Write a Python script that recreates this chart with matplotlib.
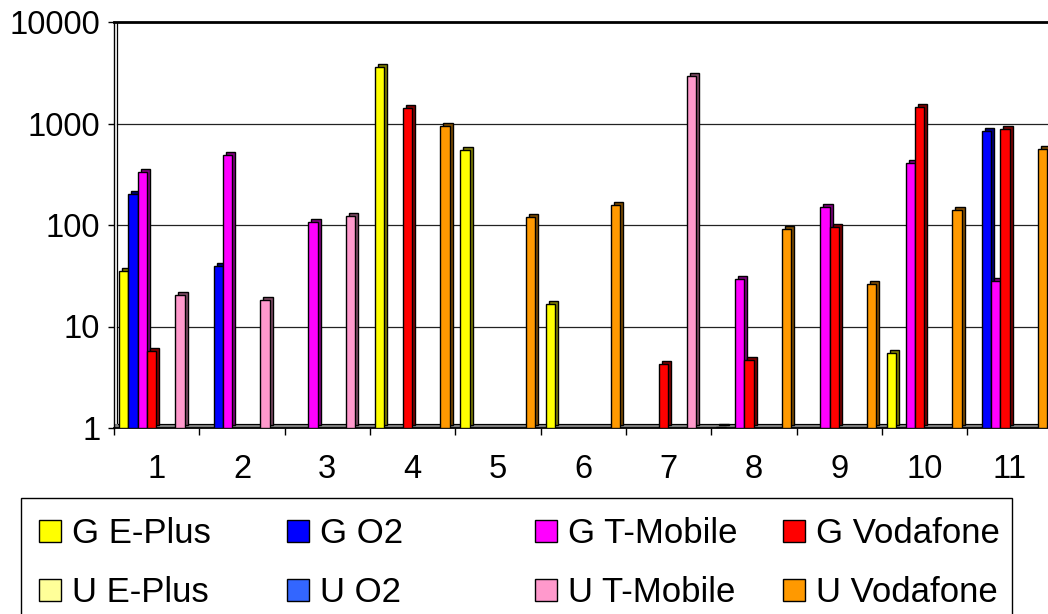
import matplotlib
matplotlib.use('Agg')
import matplotlib.pyplot as plt
import numpy as np
import matplotlib.colors as mcolors
from matplotlib.transforms import ScaledTranslation
from matplotlib.patches import Rectangle
from matplotlib.ticker import FixedLocator, NullFormatter, FixedFormatter

plt.rcParams['font.family'] = ['Liberation Sans', 'DejaVu Sans']

# ---------------- data ----------------
categories = ['1', '2', '3', '4', '5', '6', '7', '8', '9', '10', '11']
series_names = ['G E-Plus', 'G O2', 'G T-Mobile', 'G Vodafone',
                'U E-Plus', 'U O2', 'U T-Mobile', 'U Vodafone']
series_colors = ['#FFFF00', '#0000FF', '#FF00FF', '#FF0000',
                 '#FFFF99', '#3366FF', '#FF99CC', '#FF9900']
nan = np.nan
g_eplus    = [35.5, nan, nan, 3566, 544, 16.6, nan, 1.03, nan, 5.47, nan]
g_o2       = [203, 39.5, nan, nan, nan, nan, nan, nan, nan, nan, 851]
g_tmobile  = [332, 486, 108, nan, nan, nan, nan, 29.2, 150, 405, 27.9]
g_vodafone = [5.7, nan, nan, 1415, nan, nan, 4.26, 4.7, 95, 1459, 877]
u_eplus    = [nan, nan, nan, nan, nan, nan, nan, nan, nan, nan, nan]
u_o2       = [nan, nan, nan, nan, nan, nan, nan, nan, nan, nan, nan]
u_tmobile  = [20.3, 18.2, 122, nan, nan, nan, 2929, nan, nan, nan, nan]
u_vodafone = [nan, nan, nan, 946, 119, 159, nan, 91, 26.4, 139, 565]
series_values = [g_eplus, g_o2, g_tmobile, g_vodafone,
                 u_eplus, u_o2, u_tmobile, u_vodafone]
y_ticks = [1, 10, 100, 1000, 10000]
y_ticklabels = ['1', '10', '100', '1000', '10000']

# ---------------- layout ----------------
W, H = 1048, 614
DPI = 100
fig = plt.figure(figsize=(W / DPI, H / DPI), dpi=DPI)
ax_l, ax_r, ax_t, ax_b = 114, 1052.5, 22, 428
ax = fig.add_axes([ax_l / W, 1 - ax_b / H, (ax_r - ax_l) / W, (ax_b - ax_t) / H])
ax.set_yscale('log')
ax.set_ylim(1, 10000)
ax.set_xlim(0, len(categories))

FS = 23.5
LFS = 25

def darker(c, f=0.5):
    r, g, b = mcolors.to_rgb(c)
    return (r * f, g * f, b * f)

depth = ScaledTranslation(3 / DPI, 3 / DPI, fig.dpi_scale_trans)

slot = 0.1095
start = 0.06
xpos = np.arange(len(categories))
for i, (vals, col) in enumerate(zip(series_values, series_colors)):
    v = np.array(vals, dtype=float)
    m = ~np.isnan(v)
    if not m.any():
        continue
    xs = xpos[m] + start + (i + 0.5) * slot
    ax.bar(xs, v[m] - 1, bottom=1, width=slot, color=darker(col),
           edgecolor='black', linewidth=1.0, transform=ax.transData + depth,
           zorder=3 + 2 * i)
    ax.bar(xs, v[m] - 1, bottom=1, width=slot, color=col,
           edgecolor='black', linewidth=1.0, zorder=4 + 2 * i)

# floor (3D base)
half = ScaledTranslation(0, 2 / DPI, fig.dpi_scale_trans)
top4 = ScaledTranslation(1.5 / DPI, 4 / DPI, fig.dpi_scale_trans)
ax.plot([0, len(categories)], [1, 1], color='#808080', linewidth=3.0,
        transform=ax.transData + half, zorder=2, clip_on=False, solid_capstyle='butt')
ax.plot([0, len(categories)], [1, 1], color='black', linewidth=1.3,
        zorder=2.5, clip_on=False)
ax.plot([0.035, len(categories)], [1, 1], color='black', linewidth=0.8,
        transform=ax.transData + top4, zorder=2.5, clip_on=False)

# gridlines on back wall
for yv in y_ticks[1:-1]:
    ax.plot([0.035, len(categories)], [yv, yv], color='#222222', linewidth=0.9, zorder=1)
# inner wall edge
ax.plot([0.035, 0.035], [1, 10000], color='black', linewidth=0.9, zorder=1,
        transform=ax.transData + ScaledTranslation(0, 4 / DPI, fig.dpi_scale_trans))

for s in ['right', 'bottom']:
    ax.spines[s].set_visible(False)
ax.spines['left'].set_linewidth(1.0)
ax.spines['top'].set_linewidth(2.0)

ax.yaxis.set_major_locator(FixedLocator(y_ticks))
ax.yaxis.set_major_formatter(FixedFormatter(y_ticklabels))
ax.yaxis.set_minor_locator(FixedLocator([]))
ax.tick_params(axis='y', which='major', length=6 * 0.72, width=1, pad=5.5,
               labelsize=FS, direction='out')

ax.xaxis.set_major_locator(FixedLocator(list(range(len(categories) + 1))))
ax.xaxis.set_major_formatter(NullFormatter())
ax.xaxis.set_minor_locator(FixedLocator([k + 0.5 for k in range(len(categories))]))
ax.xaxis.set_minor_formatter(FixedFormatter(categories))
ax.tick_params(axis='x', which='major', length=7 * 0.72, width=1, direction='out')
ax.tick_params(axis='x', which='minor', length=0, pad=19, labelsize=FS)

# ---------------- legend ----------------
def fx(px):
    return px / W

def fy(py):
    return 1 - py / H

fig.patches.append(Rectangle((fx(21), fy(622)), fx(1012) - fx(21), fy(498) - fy(622),
                             transform=fig.transFigure, facecolor='white',
                             edgecolor='black', linewidth=1.0, zorder=1))
col_x = [39, 287, 535, 783]
row_base = [543, 602]
for i, (name, col) in enumerate(zip(series_names, series_colors)):
    r, c = divmod(i, 4)
    px, pb = col_x[c], row_base[r]
    fig.patches.append(Rectangle((fx(px), fy(pb - 1)), fx(22), fy(0) - fy(22),
                                 transform=fig.transFigure, facecolor=col,
                                 edgecolor='black', linewidth=1.0, zorder=2))
    fig.text(fx(px + 33), fy(pb), name, fontsize=LFS, ha='left', va='baseline', zorder=3)

fig.savefig('out.png', dpi=DPI)
